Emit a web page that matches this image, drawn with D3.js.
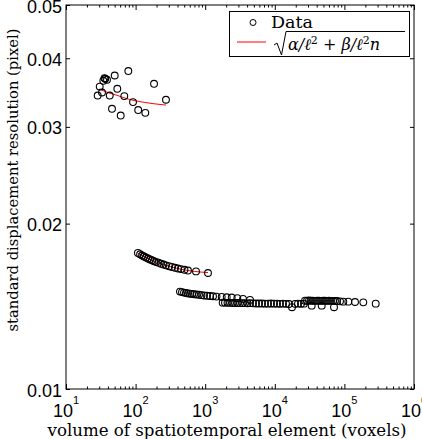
<!DOCTYPE html>
<html><head><meta charset="utf-8">
<script src="https://cdn.jsdelivr.net/npm/d3@7/dist/d3.min.js"></script>
<style>body{margin:0;background:#fff}svg{display:block}</style>
</head><body>
<svg id="c" width="422" height="439"></svg>
<script>
// ---- data ----
const xMajorTicks = [1e1, 1e2, 1e3, 1e4, 1e5, 1e6];
const xTickExponents = ["1", "2", "3", "4", "5", "6"];
const yTicks = [0.01, 0.02, 0.03, 0.04, 0.05];
const yTickLabels = ["0.01", "0.02", "0.03", "0.04", "0.05"];

// cluster 1 (small elements)
const n1 = [28.5, 30.5, 32.9, 34.4, 35.7, 36.7, 38.8, 42.5, 45.8, 50.1, 54.6, 61.1, 68.8, 78.6, 91.8, 109, 138, 184, 273];
const y1 = [0.03421, 0.03552, 0.03465, 0.03639, 0.03679, 0.03670, 0.03655, 0.03421, 0.03236, 0.03721, 0.03519, 0.03146, 0.03413, 0.03791, 0.03328, 0.03219, 0.03182, 0.03594, 0.03361];
const fit1N = [29.8, 42.8, 54.0, 68.1, 91.8, 136, 184, 273];
const fit1Y = [0.03515, 0.03454, 0.03425, 0.03389, 0.03354, 0.03323, 0.03305, 0.03287];

// cluster 2
const n2 = [108, 116, 124, 132, 141, 151, 161, 172, 184, 196, 213, 232, 252, 273, 302, 333, 368, 407, 449, 504, 566, 738, 1097];
const y2 = [0.01769, 0.01759, 0.01750, 0.01742, 0.01735, 0.01728, 0.01721, 0.01715, 0.01709, 0.01703, 0.01697, 0.01690, 0.01685, 0.01679, 0.01673, 0.01668, 0.01662, 0.01657, 0.01653, 0.01648, 0.01643, 0.01637, 0.01626];
const fit2N = [108, 150, 200, 300, 450, 700, 1097];
const fit2Y = [0.01766, 0.01728, 0.01702, 0.01673, 0.01652, 0.01637, 0.01629];

// cluster 3 (three overlapping runs)
const n3a = [434, 464, 496, 530, 566, 605, 646, 691, 750, 815, 885, 961, 1062, 1172, 1295, 1454, 1726, 2037, 2403, 2892, 3493, 4404];
const y3a = [0.01504, 0.01501, 0.01498, 0.01496, 0.01493, 0.01491, 0.01490, 0.01488, 0.01486, 0.01484, 0.01482, 0.01480, 0.01478, 0.01477, 0.01475, 0.01473, 0.01471, 0.01469, 0.01467, 0.01463, 0.01459, 0.01453];
const n3b = [1783, 1925, 2091, 2272, 2468, 2681, 2912, 3162, 3435, 3731, 4053, 4404, 4862, 5370, 5929, 6548, 7231, 7985, 8818, 9739, 10755, 11877, 13117, 14485, 15996, 17665, 19508, 21544, 23791, 26274, 33899, 47198, 70925];
const y3b = [0.01436, 0.01436, 0.01435, 0.01435, 0.01434, 0.01434, 0.01434, 0.01433, 0.01433, 0.01433, 0.01432, 0.01433, 0.01432, 0.01431, 0.01431, 0.01431, 0.01430, 0.01430, 0.01431, 0.01430, 0.01430, 0.01429, 0.01430, 0.01429, 0.01428, 0.01409, 0.01429, 0.01430, 0.01429, 0.01430, 0.01418, 0.01418, 0.01409];
const n3c = [27160, 29010, 31000, 33130, 35390, 37810, 40400, 43170, 46110, 49270, 52640, 56230, 60080, 64200, 68580, 73280, 78300, 86480, 96430, 113760, 142030, 186880, 281640];
const y3c = [0.01448, 0.01448, 0.01449, 0.01448, 0.01448, 0.01447, 0.01448, 0.01448, 0.01447, 0.01448, 0.01448, 0.01447, 0.01448, 0.01447, 0.01447, 0.01446, 0.01446, 0.01444, 0.01442, 0.01442, 0.01440, 0.01438, 0.01430];

const legendData = "Data";
const xTitle = "volume of spatiotemporal element (voxels)";
const yTitle = "standard displacement resolution (pixel)";

// ---- drawing ----
const svg = d3.select("#c");
const L = 66, R = 414, T = 5, B = 389;
const x = d3.scaleLog().domain([1e1, 1e6]).range([L, R]);
const y = d3.scaleLog().domain([0.01, 0.05]).range([B, T]);

const xMinor = [];
for (let e = 1; e < 6; e++) for (let k = 2; k <= 9; k++) xMinor.push(k * Math.pow(10, e));

function styleAxis(g) {
  g.select(".domain").remove();
  g.selectAll(".tick line").attr("stroke", "#000").attr("stroke-width", 1);
  g.selectAll(".tick text").remove();
}
// bottom / top ticks
svg.append("g").attr("transform", `translate(0,${B})`)
  .call(d3.axisBottom(x).tickValues(xMinor).tickSize(-2.5).tickFormat(() => "")).call(styleAxis);
svg.append("g").attr("transform", `translate(0,${B})`)
  .call(d3.axisBottom(x).tickValues(xMajorTicks).tickSize(-5).tickFormat(() => "")).call(styleAxis);
svg.append("g").attr("transform", `translate(0,${T})`)
  .call(d3.axisTop(x).tickValues(xMinor).tickSize(-2.5).tickFormat(() => "")).call(styleAxis);
svg.append("g").attr("transform", `translate(0,${T})`)
  .call(d3.axisTop(x).tickValues(xMajorTicks).tickSize(-5).tickFormat(() => "")).call(styleAxis);
// left / right ticks
svg.append("g").attr("transform", `translate(${L},0)`)
  .call(d3.axisLeft(y).tickValues(yTicks).tickSize(-4).tickFormat(() => "")).call(styleAxis);
svg.append("g").attr("transform", `translate(${R},0)`)
  .call(d3.axisRight(y).tickValues(yTicks).tickSize(-4).tickFormat(() => "")).call(styleAxis);

// frame
svg.append("rect").attr("x", L).attr("y", T).attr("width", R - L).attr("height", B - T)
  .attr("fill", "none").attr("stroke", "#000").attr("stroke-width", 1);

// y tick labels
svg.append("g").selectAll("text").data(yTicks).join("text")
  .attr("x", L - 4).attr("y", d => y(d) + 7.5)
  .attr("text-anchor", "end")
  .attr("font-family", "'Liberation Sans', Arial, sans-serif").attr("font-size", 18)
  .text((d, i) => yTickLabels[i]);

// x tick labels 10^k
const xl = svg.append("g").selectAll("text").data(xMajorTicks).join("text")
  .attr("x", d => x(d)).attr("y", 417)
  .attr("text-anchor", "middle")
  .attr("font-family", "'Liberation Sans', Arial, sans-serif").attr("font-size", 18);
xl.append("tspan").text("10");
xl.append("tspan").attr("dy", -13).attr("font-size", 11).text((d, i) => xTickExponents[i]);

// titles
svg.append("text").attr("x", 227).attr("y", 436).attr("text-anchor", "middle")
  .attr("font-family", "'DejaVu Serif', serif").attr("font-size", 16)
  .attr("textLength", 359).attr("lengthAdjust", "spacingAndGlyphs")
  .text(xTitle);
svg.append("text").attr("transform", "translate(18,180) rotate(-90)").attr("text-anchor", "middle")
  .attr("font-family", "'DejaVu Serif', serif").attr("font-size", 15)
  .attr("textLength", 303).attr("lengthAdjust", "spacingAndGlyphs")
  .text(yTitle);

// fit lines
const line = d3.line().x(d => x(d[0])).y(d => y(d[1])).curve(d3.curveMonotoneX);
[[fit1N, fit1Y], [fit2N, fit2Y]].forEach(([ns, ys]) => {
  svg.append("path").attr("d", line(ns.map((n, i) => [n, ys[i]])))
    .attr("fill", "none").attr("stroke", "#ff0000").attr("stroke-width", 1);
});

// data circles
const pts = [];
[[n1, y1], [n2, y2], [n3a, y3a], [n3b, y3b], [n3c, y3c]].forEach(([ns, ys]) =>
  ns.forEach((n, i) => pts.push([n, ys[i]])));
svg.append("g").selectAll("circle").data(pts).join("circle")
  .attr("cx", d => x(d[0])).attr("cy", d => y(d[1])).attr("r", 3.4)
  .attr("fill", "none").attr("stroke", "#000").attr("stroke-width", 1.1);

// legend
const lg = svg.append("g");
lg.append("rect").attr("x", 229.5).attr("y", 11.5).attr("width", 180).attr("height", 45)
  .attr("fill", "#fff").attr("stroke", "#000").attr("stroke-width", 1);
lg.append("circle").attr("cx", 253).attr("cy", 22.5).attr("r", 3)
  .attr("fill", "none").attr("stroke", "#000").attr("stroke-width", 1);
lg.append("text").attr("x", 271).attr("y", 28).attr("font-family", "'DejaVu Serif', serif")
  .attr("font-size", 17).attr("textLength", 42).attr("lengthAdjust", "spacingAndGlyphs").text(legendData);
lg.append("line").attr("x1", 237).attr("x2", 266).attr("y1", 42).attr("y2", 42)
  .attr("stroke", "#ff0000").attr("stroke-width", 1);
lg.append("path").attr("d", "M274,45 L277,43 L281.5,55 L286,31.5 L405,31.5")
  .attr("fill", "none").attr("stroke", "#000").attr("stroke-width", 1);
const ft = lg.append("text").attr("x", 288).attr("y", 50)
  .attr("font-family", "'DejaVu Serif', serif").attr("font-size", 16).attr("font-style", "italic");
ft.append("tspan").text("α/ℓ");
ft.append("tspan").attr("dy", -6).attr("font-size", 11).attr("font-style", "normal").text("2");
ft.append("tspan").attr("dy", 6).attr("font-style", "normal").text(" + ");
ft.append("tspan").text("β/ℓ");
ft.append("tspan").attr("dy", -6).attr("font-size", 11).attr("font-style", "normal").text("2");
ft.append("tspan").attr("dy", 6).text("n");
</script>
</body></html>
